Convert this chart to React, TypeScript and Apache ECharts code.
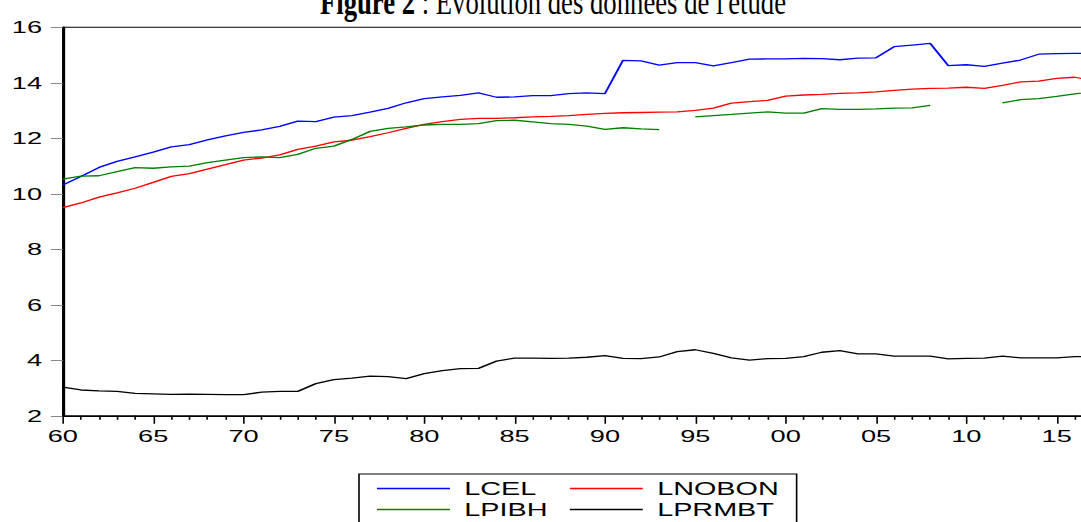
import React, { useEffect, useRef } from "react";
import * as echarts from "echarts";

const START_YEAR = 1960;

const LCEL = [
  10.32, 10.62, 10.95, 11.17, 11.33, 11.5, 11.69, 11.77, 11.94, 12.09,
  12.21, 12.3, 12.43, 12.62, 12.6, 12.76, 12.82, 12.94, 13.08, 13.28,
  13.43, 13.49, 13.55, 13.64, 13.48, 13.49, 13.54, 13.54, 13.61, 13.64,
  13.61, 14.81, 14.79, 14.64, 14.73, 14.73, 14.61, 14.73, 14.85, 14.86,
  14.86, 14.88, 14.87, 14.83, 14.89, 14.9, 15.3, 15.36, 15.42, 14.62,
  14.65, 14.59, 14.71, 14.82, 15.03, 15.05, 15.06, 15.06,
];

const LNOBON = [
  9.5, 9.67, 9.88, 10.03, 10.2, 10.41, 10.63, 10.73, 10.89, 11.05,
  11.21, 11.29, 11.4, 11.6, 11.72, 11.87, 11.93, 12.06, 12.2, 12.36,
  12.5, 12.6, 12.68, 12.72, 12.72, 12.74, 12.77, 12.79, 12.82, 12.86,
  12.9, 12.92, 12.93, 12.94, 12.95, 13.01, 13.09, 13.27, 13.32, 13.37,
  13.52, 13.56, 13.58, 13.62, 13.64, 13.67, 13.73, 13.77, 13.8, 13.81,
  13.84, 13.8, 13.91, 14.03, 14.06, 14.16, 14.2, 14.08,
];

const LPIBH = [
  10.53, 10.64, 10.65, 10.8, 10.94, 10.92, 10.97, 11.0, 11.12, 11.21,
  11.3, 11.33, 11.3, 11.42, 11.64, 11.72, 11.96, 12.25, 12.36, 12.41,
  12.48, 12.5, 12.5, 12.53, 12.64, 12.65, 12.59, 12.53, 12.5, 12.44,
  12.32, 12.38, 12.34, 12.31, null, 12.77, 12.82, 12.86, 12.91, 12.95,
  12.91, 12.91, 13.07, 13.04, 13.04, 13.06, 13.09, 13.1, 13.19, null,
  null, null, 13.28, 13.39, 13.43, 13.51, 13.6, 13.68,
];

const LPRMBT = [
  3.03, 2.93, 2.9, 2.88, 2.81, 2.79, 2.77, 2.78, 2.77, 2.76,
  2.76, 2.85, 2.88, 2.88, 3.16, 3.3, 3.36, 3.43, 3.41, 3.34,
  3.52, 3.63, 3.7, 3.71, 3.97, 4.08, 4.08, 4.07, 4.08, 4.11,
  4.17, 4.07, 4.06, 4.12, 4.31, 4.38, 4.25, 4.09, 4.01, 4.06,
  4.07, 4.13, 4.29, 4.35, 4.23, 4.23, 4.15, 4.15, 4.15, 4.05,
  4.07, 4.08, 4.15, 4.09, 4.09, 4.09, 4.13, 4.13,
];

const SERIES_NAMES = ["LCEL", "LNOBON", "LPIBH", "LPRMBT"];
const SERIES_COLORS = ["#0000ff", "#ff0000", "#008000", "#000000"];
const TITLE_BOLD = "Figure 2";
const TITLE_REST = " : Evolution des données de l'étude";
const LAST_LABEL_YEAR = 2015;

// The reference image is horizontally stretched; draw narrower and stretch with CSS.
const OUT_W = 1081;
const IN_W = 676;
const SX = OUT_W / IN_W;

function toPairs(vals: (number | null)[]) {
  return vals.map((v, i) => [START_YEAR + i, v]);
}

export default function App() {
  const ref = useRef<HTMLDivElement>(null);
  useEffect(() => {
    if (!ref.current) return;
    const chart = echarts.init(ref.current, null, { renderer: "svg" });
    const font = "'Liberation Sans', Arial, sans-serif";
    const all = [LCEL, LNOBON, LPIBH, LPRMBT];
    chart.setOption({
      animation: false,
      backgroundColor: "#ffffff",
      grid: {
        show: true,
        borderColor: "#000",
        borderWidth: 1,
        left: 39.3,
        top: 27.3,
        width: 678,
        height: 388.5,
        containLabel: false,
        outerBoundsMode: "none",
      },
      xAxis: {
        type: "value",
        min: 1960,
        max: 2020,
        interval: 5,
        axisLine: { show: true, lineStyle: { color: "#000", width: 1 } },
        axisTick: { show: true, length: 8, lineStyle: { color: "#000", width: 1 } },
        minorTick: { show: true, splitNumber: 5, length: 4, lineStyle: { color: "#000", width: 1 } },
        splitLine: { show: false },
        minorSplitLine: { show: false },
        axisLabel: {
          color: "#000",
          fontSize: 17,
          fontFamily: font,
          margin: 12,
          showMaxLabel: false,
          formatter: (v: number) =>
            v > LAST_LABEL_YEAR ? "" : String(v % 100).padStart(2, "0"),
        },
      },
      yAxis: {
        type: "value",
        min: 2,
        max: 16,
        interval: 2,
        axisLine: { show: true, lineStyle: { color: "#000", width: 1.5 } },
        axisTick: { show: true, length: 7.5, lineStyle: { color: "#888", width: 1 } },
        splitLine: { show: false },
        axisLabel: { color: "#000", fontSize: 17, fontFamily: font, margin: 13 },
      },
      legend: {
        data: SERIES_NAMES,
        orient: "horizontal",
        left: 224.5,
        top: 474,
        width: 280,
        icon: "rect",
        itemWidth: 45.6,
        itemHeight: 1.3,
        itemGap: 0,
        padding: [4, 11.2, 4, 11.25],
        borderColor: "#000",
        borderWidth: 1,
        backgroundColor: "#fff",
        textStyle: {
          color: "#000",
          fontSize: 18,
          fontFamily: font,
          width: 66,
          lineHeight: 21,
          padding: [0, 0, 0, 4],
        },
      },
      graphic: [
        {
          type: "text",
          x: 345.8,
          y: 20,
          scaleY: 2.1,
          style: {
            text: "{b|" + TITLE_BOLD + "}" + TITLE_REST,
            fontFamily: "'Liberation Serif', 'Times New Roman', serif",
            fontSize: 16.7,
            fill: "#000",
            align: "center",
            verticalAlign: "bottom",
            rich: {
              b: {
                fontWeight: "bold",
                fontFamily: "'Liberation Serif', 'Times New Roman', serif",
                fontSize: 16.7,
              },
            },
          },
        },
      ],
      series: SERIES_NAMES.map((name, k) => ({
        name,
        type: "line",
        data: toPairs(all[k]),
        symbol: "none",
        showSymbol: false,
        connectNulls: false,
        lineStyle: { color: SERIES_COLORS[k], width: 1.3 },
        itemStyle: { color: SERIES_COLORS[k] },
        emphasis: { disabled: true },
      })),
    });
    return () => chart.dispose();
  }, []);
  return (
    <div
      ref={ref}
      style={{
        position: "absolute",
        left: 0,
        top: 0,
        width: IN_W,
        height: 522,
        transform: `scaleX(${SX})`,
        transformOrigin: "0 0",
      }}
    />
  );
}
